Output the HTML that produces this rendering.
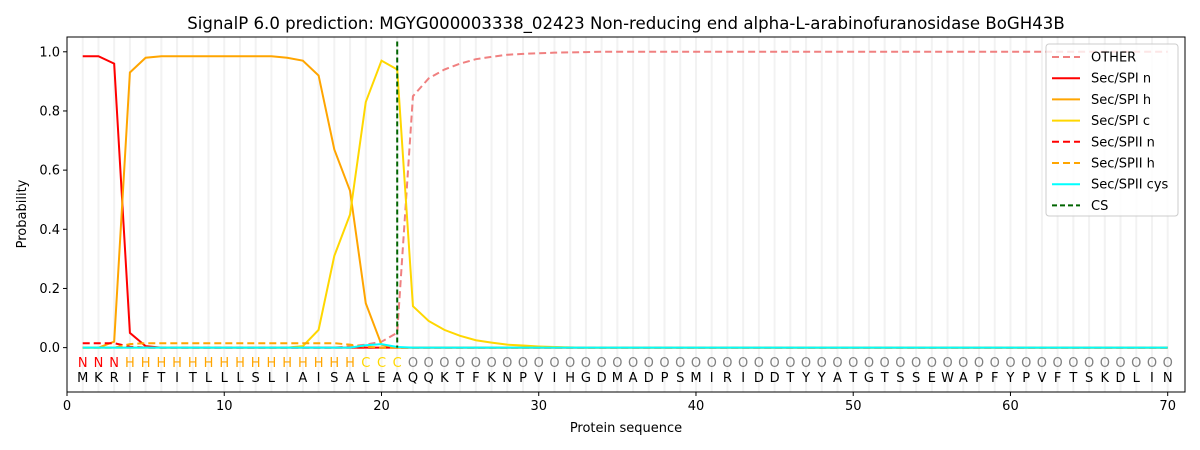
<!DOCTYPE html>
<html><head><meta charset="utf-8">
<style>
html,body{margin:0;padding:0;background:#fff;}
svg{display:block;font-family:"DejaVu Sans","Liberation Sans",sans-serif;}
</style></head>
<body>
<svg id="chart" width="1200" height="450" viewBox="0 0 1200 450" xmlns="http://www.w3.org/2000/svg">
<rect width="1200" height="450" fill="#fff"/>
<text x="626" y="29" font-size="16.6" text-anchor="middle" fill="#000">SignalP 6.0 prediction: MGYG000003338_02423 Non-reducing end alpha-L-arabinofuranosidase BoGH43B</text>
<g id="grid"></g>
<g id="series"></g>
<g id="labels"></g>
<rect x="67" y="37" width="1118" height="355" fill="none" stroke="#000" stroke-width="1"/>
<g id="axes"></g>
<text x="626" y="432" font-size="13" text-anchor="middle">Protein sequence</text>
<text transform="translate(26,214) rotate(-90)" font-size="13" text-anchor="middle">Probability</text>
<g id="legend"></g>
</svg>
<script>
const sequence = "MKRIFTITLLLSLIAISALEAQQKTFKNPVIHGDMADPSMIRIDDTYYATGTSSEWAPFYPVFTSKDLIN".split("");
const regions = "NNNHHHHHHHHHHHHHHHCCC".split("");
const otherVals = [0,0,0,0,0,0,0,0,0,0,0,0,0,0,0,0,0,0.005,0.01,0.02,0.05,0.85,0.91,0.94,0.96,0.975,0.983,0.99,0.993,0.995,0.997,0.998,0.999];
const spiN = [0.985,0.985,0.96,0.05,0.005];
const spiH = [0,0,0.02,0.93,0.98,0.985,0.985,0.985,0.985,0.985,0.985,0.985,0.985,0.98,0.97,0.92,0.67,0.53,0.15,0.01,0];
const spiC = [0,0,0,0,0,0,0,0,0,0,0,0,0,0,0.005,0.06,0.31,0.45,0.83,0.97,0.94,0.14,0.09,0.06,0.04,0.025,0.017,0.01,0.007,0.004,0.002,0.001];
const spiiN = [0.015,0.015,0.015,0.003,0];
const spiiH = [0,0,0,0.012,0.015,0.015,0.015,0.015,0.015,0.015,0.015,0.015,0.015,0.015,0.015,0.015,0.015,0.01,0.003,0];
const spiiCys = [0,0,0,0,0,0,0,0,0,0,0,0,0,0,0,0,0,0,0.008,0.012,0.002];
const csPos = 21;
const xTicks = [0,10,20,30,40,50,60,70];
const yTicks = [0,0.2,0.4,0.6,0.8,1.0];

const NS="http://www.w3.org/2000/svg";
const X0=67,X1=1185,XMIN=0,XMAX=71.1,Y0=392,Y1=37,YMIN=-0.15,YMAX=1.05;
function xs(v){return X0+(v-XMIN)/(XMAX-XMIN)*(X1-X0);}
function ys(v){return Y0-(v-YMIN)/(YMAX-YMIN)*(Y0-Y1);}
function mk(tag,attrs,parent){const e=document.createElementNS(NS,tag);for(const k in attrs)e.setAttribute(k,attrs[k]);parent.appendChild(e);return e;}
const N=sequence.length;
function full(arr,fill){const o=[];for(let i=0;i<N;i++)o.push(i<arr.length?arr[i]:fill);return o;}

const grid=document.getElementById('grid');
for(let i=1;i<=N;i++){
  const l=mk('line',{x1:xs(i),x2:xs(i),y1:Y1,y2:Y0,stroke:'#f2f2f2','stroke-width':2},grid);
  
  
}

const seriesDefs=[
  {name:'OTHER',data:full(otherVals,1),color:'#f08080',dash:'7,4'},
  {name:'Sec/SPI n',data:full(spiN,0),color:'#ff0000',dash:''},
  {name:'Sec/SPI h',data:full(spiH,0),color:'#ffa500',dash:''},
  {name:'Sec/SPI c',data:full(spiC,0),color:'#ffd700',dash:''},
  {name:'Sec/SPII n',data:full(spiiN,0),color:'#ff0000',dash:'7,4'},
  {name:'Sec/SPII h',data:full(spiiH,0),color:'#ffa500',dash:'7,4'},
  {name:'Sec/SPII cys',data:full(spiiCys,0),color:'#00ffff',dash:''}
];
const sg=document.getElementById('series');
seriesDefs.forEach(s=>{
  const pts=s.data.map((v,i)=>xs(i+1).toFixed(2)+','+ys(v).toFixed(2)).join(' ');
  const p=mk('polyline',{points:pts,fill:'none',stroke:s.color,'stroke-width':2,'stroke-dasharray':s.dash},sg);
  
  
});
const cs=mk('line',{x1:xs(csPos),x2:xs(csPos),y1:ys(1.035),y2:ys(0),stroke:'#006400','stroke-width':2,'stroke-dasharray':'5,3'},sg);



const lg=document.getElementById('labels');
const rc={N:'#ff0000',H:'#ffa500',C:'#ffd700',O:'#808080'};
sequence.forEach((aa,i)=>{
  const r=i<regions.length?regions[i]:'O';
  const t=mk('text',{x:xs(i+1),y:367,'font-size':13,'text-anchor':'middle',fill:rc[r]},lg);
  t.textContent=r;
  
  
  const a=mk('text',{x:xs(i+1),y:382,'font-size':13,'text-anchor':'middle',fill:'#000'},lg);
  a.textContent=aa;
  
  
});

const ax=document.getElementById('axes');
xTicks.forEach(v=>{
  mk('line',{x1:xs(v),x2:xs(v),y1:Y0,y2:Y0+4,stroke:'#000'},ax);
  const t=mk('text',{x:xs(v),y:Y0+18,'font-size':13,'text-anchor':'middle'},ax);
  t.textContent=v;
  
  
});
yTicks.forEach(v=>{
  mk('line',{x1:X0-4,x2:X0,y1:ys(v),y2:ys(v),stroke:'#000'},ax);
  const t=mk('text',{x:X0-7,y:ys(v)+4.5,'font-size':13,'text-anchor':'end'},ax);
  t.textContent=v.toFixed(1);
  
  
});

const leg=document.getElementById('legend');
const box=mk('rect',{x:1046,y:44,width:132,height:172,rx:3,fill:'#fff','fill-opacity':0.8,stroke:'#ccc'},leg);


const legItems=seriesDefs.concat([{name:'CS',color:'#006400',dash:'5,3'}]);
legItems.forEach((s,i)=>{
  const y=57+i*21.2;
  const l=mk('line',{x1:1052,x2:1080,y1:y,y2:y,stroke:s.color,'stroke-width':2,'stroke-dasharray':s.dash},leg);
  
  
  const t=mk('text',{x:1091,y:y+4.5,'font-size':13},leg);
  t.textContent=s.name;
  
  
});
</script>
</body></html>
